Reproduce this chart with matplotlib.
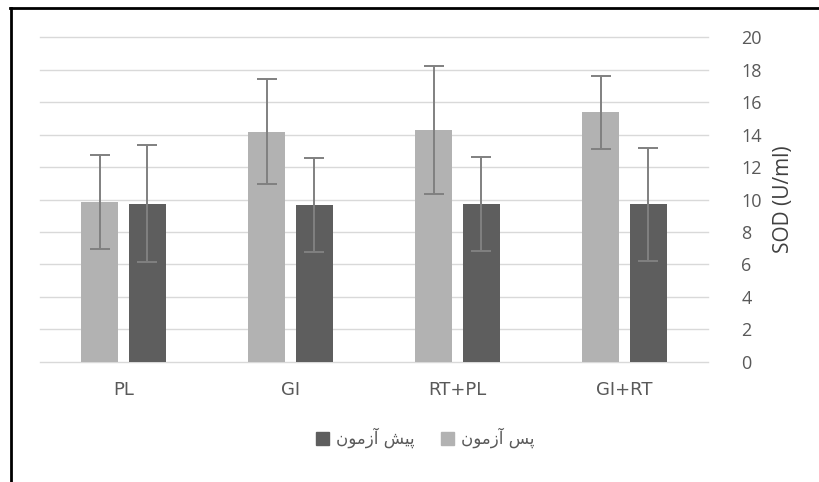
import numpy as np
import matplotlib.pyplot as plt
from matplotlib.patches import Patch
from matplotlib.lines import Line2D

groups = ['PL', 'GI', 'RT+PL', 'GI+RT']
# light bars (post-test) and dark bars (pre-test)
post_mean = [9.85, 14.2, 14.3, 15.4]
post_sd = [2.9, 3.25, 3.95, 2.25]
pre_mean = [9.75, 9.65, 9.7, 9.7]
pre_sd = [3.6, 2.9, 2.9, 3.5]

# Persian labels written in presentation forms, visual order
label_post = '\uFEE5\uFEEE\uFEE3\uFEAF\uFE81 \uFEB2\uFB58'          # پس آزمون
label_pre = '\uFEE5\uFEEE\uFEE3\uFEAF\uFE81 \uFEB6\uFBFF\uFB58'     # پیش آزمون

light = '#b2b2b2'
dark = '#5e5e5e'
err_col = '#808080'
txt_col = '#595959'

fig = plt.figure(figsize=(8.19, 4.82), dpi=100)
ax = fig.add_axes([40 / 819, 1 - 361.7 / 482, 668 / 819, (361.7 - 37.5) / 482])

x = np.arange(len(groups))
w = 0.22
off = 0.142
ax.bar(x - off, post_mean, w, color=light, zorder=2)
ax.bar(x + off, pre_mean, w, color=dark, zorder=2)
ax.errorbar(x - off, post_mean, yerr=post_sd, fmt='none', ecolor=err_col,
            elinewidth=1.4, capsize=7, capthick=1.4, zorder=3)
ax.errorbar(x + off, pre_mean, yerr=pre_sd, fmt='none', ecolor=err_col,
            elinewidth=1.4, capsize=7, capthick=1.4, zorder=3)

ax.set_xlim(-0.5, len(groups) - 0.5)
ax.set_ylim(0, 20)
ax.set_yticks(range(0, 21, 2))
ax.yaxis.tick_right()
ax.yaxis.set_label_position('right')
ax.grid(axis='y', color='#d9d9d9', linewidth=1, zorder=0)
for gl in ax.get_ygridlines():
    gl.set_clip_on(False)
for s in ax.spines.values():
    s.set_visible(False)
ax.tick_params(length=0, labelsize=13, labelcolor=txt_col)
ax.tick_params(axis='y', pad=24)
ax.tick_params(axis='x', pad=14)
ax.set_xticks(x)
ax.set_xticklabels(groups, fontfamily='Liberation Sans Narrow', fontsize=13)
for t in ax.get_yticklabels():
    t.set_fontfamily('Open Sans')
ax.set_ylabel('SOD (U/ml)', fontsize=15, color='#404040', fontfamily='Open Sans', labelpad=8)

handles = [Patch(color=dark), Patch(color=light)]
fig.legend(handles, [label_pre, label_post], loc='center', bbox_to_anchor=(425 / 819, 1 - 438 / 482),
           ncol=2, frameon=False, fontsize=12, handlelength=0.8, handleheight=0.8,
           handletextpad=0.4, columnspacing=1.6, labelcolor=txt_col)

# page frame lines from the cropped document
fig.add_artist(Line2D([10 / 819, 1], [1 - 8 / 482, 1 - 8 / 482], color='black', lw=2))
fig.add_artist(Line2D([11 / 819, 11 / 819], [0, 1 - 8 / 482], color='black', lw=2))

fig.savefig('out.png', dpi=100)
